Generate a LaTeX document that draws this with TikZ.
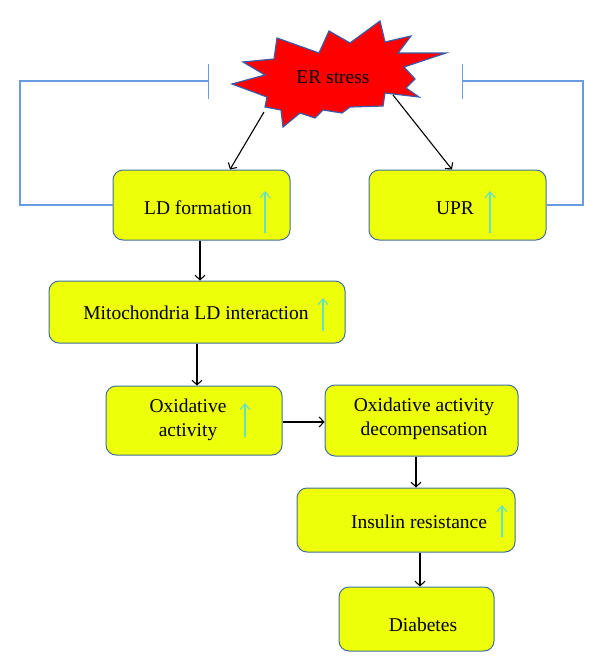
\documentclass[tikz,border=0pt]{standalone}
\usepackage{fontspec}
\setmainfont{Liberation Serif}
\usetikzlibrary{arrows.meta,calc}
\definecolor{boxfill}{HTML}{EEFF0A}
\definecolor{boxline}{HTML}{41719C}
\definecolor{starline}{HTML}{3A5BA8}
\definecolor{upcol}{HTML}{5FE3C4}
\definecolor{fbcol}{HTML}{6A9BE0}
\tikzset{
  box/.style={draw=boxline, fill=boxfill, line width=1pt, rounded corners=10pt},
  txt/.style={font=\fontsize{19.5}{24}\selectfont, align=center, inner sep=0pt},
  conn/.style={black, line width=1.1pt, -{Straight Barb[length=4.5pt,width=10pt,line width=1.1pt]}},
  upar/.style={upcol, line width=1.1pt, -{Straight Barb[length=6pt,width=10pt,line width=1.1pt]}},
  fb/.style={fbcol, line width=1.1pt, -{Bar[width=35pt,line width=1.1pt]}}
}
\begin{document}
\begin{tikzpicture}[x=1pt,y=-1pt]
\useasboundingbox (0,0) rectangle (600,672);
% star
\draw[starline, fill=red, line width=1.2pt, line join=miter]
 (277,38) -- (319,53) -- (329,31) -- (350,43) -- (380,21) -- (385,42) -- (411,36)
 -- (398,53) -- (446,53) -- (404,67) -- (415,79) -- (406,88) -- (419,97) -- (385,93)
 -- (383,106) -- (350,107) -- (342,113) -- (323,110) -- (315,118) -- (300,113)
 -- (283,127) -- (281,110) -- (265,107) -- (267,97) -- (232,84) -- (265,75)
 -- (243,62) -- (274,59) -- cycle;
\node[txt] (er) at (333,77) {ER stress};
\coordinate (erl) at (264,112);
\coordinate (err) at (393,95);
% boxes
\node[box, minimum width=177pt, minimum height=70pt] (ld) at (201.5,205) {};
\node[box, minimum width=177pt, minimum height=70pt] (upr) at (457.5,205) {};
\node[box, minimum width=296pt, minimum height=62pt] (mito) at (197,312) {};
\node[box, minimum width=176pt, minimum height=69pt] (ox) at (194,420.5) {};
\node[box, minimum width=193pt, minimum height=71pt] (dec) at (421.5,420.5) {};
\node[box, minimum width=218pt, minimum height=64pt] (ins) at (406,520) {};
\node[box, minimum width=155pt, minimum height=64pt] (dia) at (416.5,619) {};
% texts
\node[txt] (ldt) at (198,208) {LD formation};
\node[txt] (uprt) at (455,208) {UPR};
\node[txt] (mitot) at (196,313) {Mitochondria LD interaction};
\node[txt] (oxt) at (188,420) {Oxidative\\activity};
\node[txt] (dect) at (424,419) {Oxidative activity\\decompensation};
\node[txt] (inst) at (419,522) {Insulin resistance};
\node[txt] (diat) at (423,625) {Diabetes};
% up arrows
\draw[upar] (265,233) -- (265,191);
\draw[upar] (490,233) -- (490,191);
\draw[upar] (323,331) -- (323,298);
\draw[upar] (245,437) -- (245,403);
\draw[upar] (502,537) -- (502,505);
% connectors
\draw[conn] (erl) -- (ld.north -| 230,0);
\draw[conn] (err) -- (upr.north -| 452,0);
\draw[conn] (ld.south -| 200,0) -- (mito.north -| 200,0);
\draw[conn] (mito.south) -- (ox.north -| mito.south);
\draw[conn] (ox.east |- 0,422) -- (dec.west |- 0,422);
\draw[conn] (dec.south -| 416,0) -- (ins.north -| 416,0);
\draw[conn] (ins.south -| 420,0) -- (dia.north -| 420,0);
% feedback
\coordinate (tl) at (209,81);
\coordinate (tr) at (462,81);
\draw[fb] (ld.west) -- (20,205) -- (20,81) -- (tl);
\draw[fb] (upr.east) -- (583,205) -- (583,81) -- (tr);
\end{tikzpicture}
\end{document}
